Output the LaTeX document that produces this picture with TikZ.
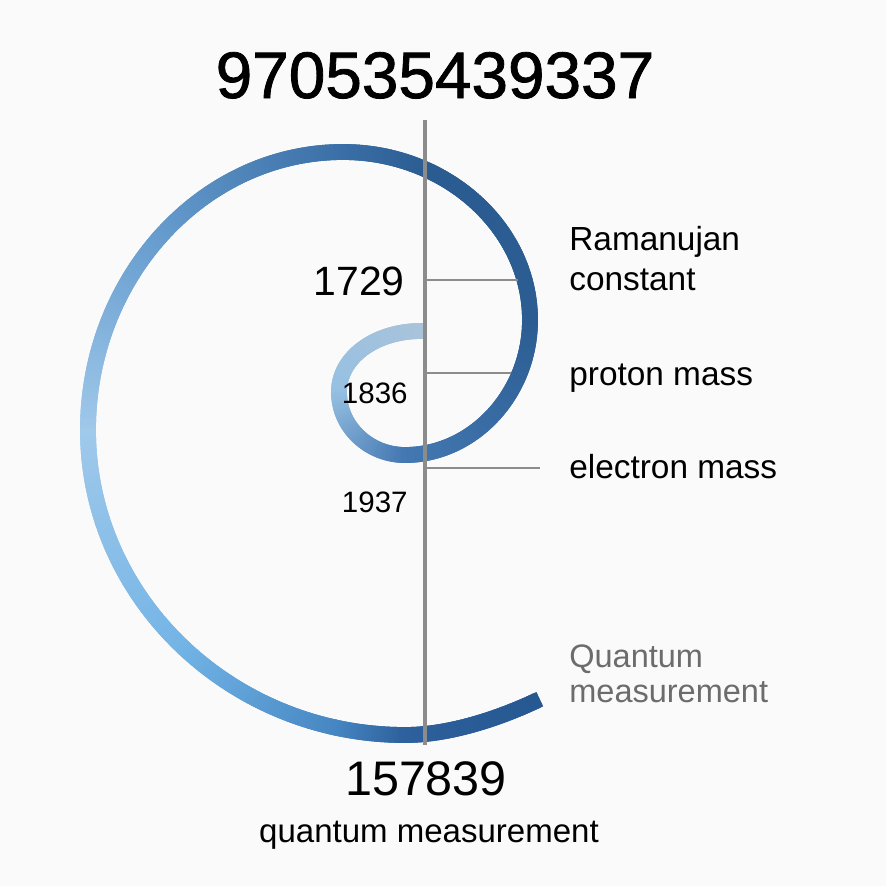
\documentclass[tikz,border=0pt]{standalone}
\usepackage{fontspec}
\setmainfont{Liberation Sans}
\newfontfamily\headfont[FakeBold=1.2]{Liberation Sans}
\usetikzlibrary{decorations.markings}

\definecolor{sp0}{RGB}{169,195,218}
\definecolor{sp1}{RGB}{150,192,226}
\definecolor{sp2}{RGB}{68,120,178}
\definecolor{sp3}{RGB}{43,93,146}
\definecolor{sp4}{RGB}{42,92,145}
\definecolor{sp5}{RGB}{58,110,166}
\definecolor{sp6}{RGB}{102,156,206}
\definecolor{sp7}{RGB}{160,201,234}
\definecolor{sp8}{RGB}{115,180,230}
\definecolor{sp9}{RGB}{70,135,195}
\definecolor{sp10}{RGB}{45,96,156}
\definecolor{sp11}{RGB}{38,88,145}
\definecolor{axisgray}{RGB}{140,140,140}
\definecolor{notegray}{RGB}{108,108,108}
\definecolor{paper}{RGB}{250,250,250}

\tikzset{
  shade seg/.style n args={4}{postaction={decorate, decoration={markings,
    mark=between positions #1 and #2 step 1.2pt with {
      \pgfmathsetmacro\segp{100*((\pgfkeysvalueof{/pgf/decoration/mark info/distance from start})/(\pgfdecoratedpathlength)-#1)/(#2-#1)}%
      \pgfmathtruncatemacro\segp{max(0,min(100,\segp))}%
      \fill[#4!\segp!#3] (-1.4pt,-4.5pt) rectangle (1.4pt,4.5pt);
    }}}},
  axis/.style={draw=axisgray, line width=2.3pt},
  tick/.style={draw=axisgray, line width=1.5pt},
  num/.style={inner sep=0pt, text=black},
  note/.style={inner sep=0pt, anchor=base west, font=\fontsize{19pt}{22pt}\selectfont},
}

\begin{document}
\begin{tikzpicture}[x=0.02cm, y=-0.02cm]
    \useasboundingbox[fill=paper] (0,0) rectangle (886,886);

    % the spiral, light at the centre and dark on the outer turn
    \path[shade seg={0}{0.065}{sp0}{sp1},
          shade seg={0.065}{0.123}{sp1}{sp2},
          shade seg={0.123}{0.24}{sp2}{sp3},
          shade seg={0.24}{0.35}{sp3}{sp4},
          shade seg={0.35}{0.40}{sp4}{sp5},
          shade seg={0.40}{0.52}{sp5}{sp6},
          shade seg={0.52}{0.641}{sp6}{sp7},
          shade seg={0.641}{0.78}{sp7}{sp8},
          shade seg={0.78}{0.88}{sp8}{sp9},
          shade seg={0.88}{0.921}{sp9}{sp10},
          shade seg={0.921}{1}{sp10}{sp11}]
        (421,331) .. controls (376,331) and (339,357) .. (339,392)
        .. controls (339,427) and (369,455) .. (405,455)
        .. controls (473,455) and (530,394) .. (530,320)
        .. controls (530,228) and (446,152) .. (343,152)
        .. controls (203,152) and (88,277) .. (88,430)
        .. controls (88,598) and (231,735) .. (405,735)
        .. controls (450,735) and (500,718) .. (538,700);

    \coordinate (axTop) at (425,120);
    \coordinate (axBot) at (425,745);
    \coordinate (ramEnd) at (518,280);
    \coordinate (pmEnd) at (511,373);
    \coordinate (emEnd) at (540,468);

    \draw[tick] (ramEnd -| axTop) -- (ramEnd);
    \draw[tick] (pmEnd -| axTop) -- (pmEnd);
    \draw[tick] (emEnd -| axTop) -- (emEnd);
    \draw[axis] (axTop) -- (axBot);

    % numbers
    \node[num, anchor=base, font=\headfont\fontsize{37.4pt}{40pt}\selectfont] (title) at (435,98) {970535439337};
    \node[num, anchor=base east, font=\fontsize{23.3pt}{26pt}\selectfont] (n1729) at (405,295) {1729};
    \node[num, anchor=base east, font=\fontsize{16.8pt}{19pt}\selectfont] (n1836) at (408,403) {1836};
    \node[num, anchor=base east, font=\fontsize{16.8pt}{19pt}\selectfont] (n1937) at (408,512) {1937};
    \node[num, anchor=base, font=\fontsize{27.6pt}{30pt}\selectfont] (n157839) at (426,795) {157839};
    \node[num, anchor=base, font=\fontsize{18.8pt}{22pt}\selectfont] (qmBottom) at (429,842) {quantum measurement};

    % labels on the right
    \node[note] (ram) at (569,250) {Ramanujan};
    \node[note] (ramB) at (569,290) {constant};
    \node[note] (pm) at (569,385) {proton mass};
    \node[note] (em) at (569,478) {electron mass};
    \node[note, text=notegray, font=\fontsize{18.5pt}{22pt}\selectfont] (qm) at (569,667) {Quantum};
    \node[note, text=notegray, font=\fontsize{18.5pt}{22pt}\selectfont] (qmB) at (569,702) {measurement};
\end{tikzpicture}
\end{document}
